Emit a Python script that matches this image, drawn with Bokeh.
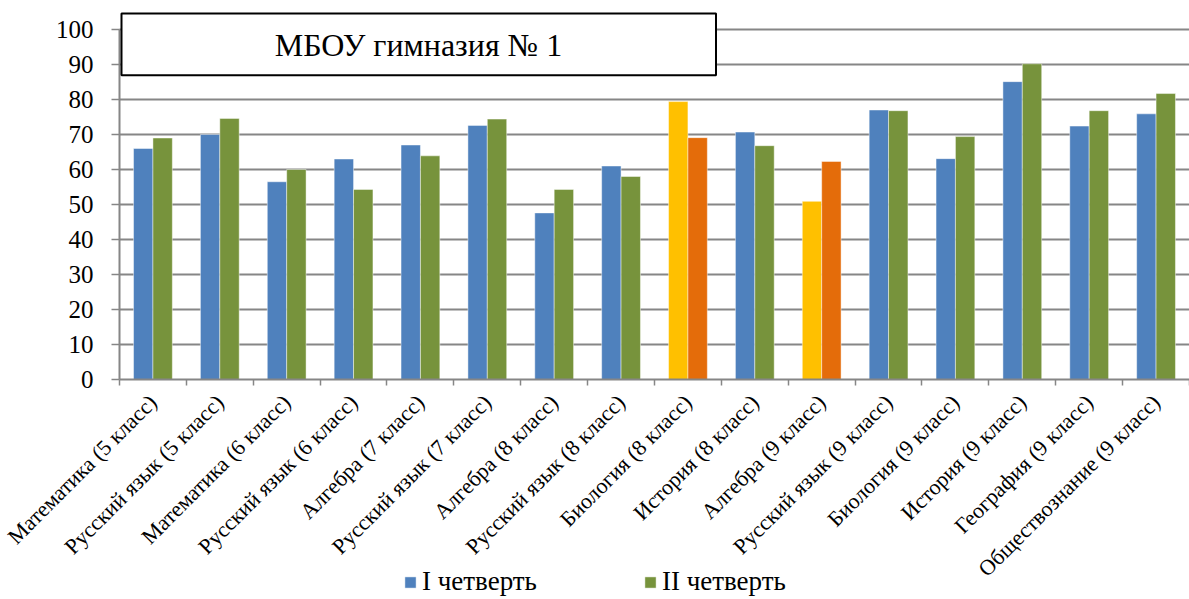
import numpy as np
from bokeh.plotting import figure
from bokeh.models import (ColumnDataSource, Range1d, FixedTicker, Label, Legend,
                          LegendItem, BoxAnnotation)
from bokeh.embed import file_html
from bokeh.resources import INLINE

categories = [
    "Математика (5 класс)", "Русский язык (5 класс)", "Математика (6 класс)",
    "Русский язык (6 класс)", "Алгебра (7 класс)", "Русский язык (7 класс)",
    "Алгебра (8 класс)", "Русский язык (8 класс)", "Биология (8 класс)",
    "История (8 класс)", "Алгебра (9 класс)", "Русский язык (9 класс)",
    "Биология (9 класс)", "История (9 класс)", "География (9 класс)",
    "Обществознание (9 класс)",
]
q1_values = [66.0, 70.0, 56.5, 63.0, 67.0, 72.6, 47.6, 61.0, 79.4, 70.7, 50.9,
             77.0, 63.1, 85.1, 72.4, 75.9]
q2_values = [69.0, 74.6, 60.0, 54.3, 63.9, 74.4, 54.3, 58.0, 69.1, 66.8, 62.3,
             76.8, 69.4, 90.2, 76.8, 81.7]
highlighted = [False, False, False, False, False, False, False, False, True,
               False, True, False, False, False, False, False]
series_names = ["I четверть", "II четверть"]
title_text = "МБОУ гимназия № 1"
y_ticks = [0, 10, 20, 30, 40, 50, 60, 70, 80, 90, 100]

BLUE, GREEN, YELLOW, ORANGE = "#4F81BD", "#77933C", "#FFC000", "#E46C0A"
GRID = "#868686"
FONT = "Liberation Serif"

n = len(categories)
centers = np.arange(n) + 0.5
bar_w = 0.29

src1 = ColumnDataSource(dict(
    x=centers - bar_w / 2, top=q1_values,
    color=[YELLOW if h else BLUE for h in highlighted]))
src2 = ColumnDataSource(dict(
    x=centers + bar_w / 2, top=q2_values,
    color=[ORANGE if h else GREEN for h in highlighted]))

# the frame fills the canvas; both axes are pinned inside it
p = figure(width=1189, height=599, output_backend="svg", toolbar_location=None,
           x_range=Range1d(-1.7794, n), y_range=Range1d(-62.857, 106),
           min_border_left=0, min_border_right=0, min_border_top=8,
           min_border_bottom=0)
p.outline_line_color = None
p.background_fill_color = "white"
p.xgrid.grid_line_color = None
p.ygrid.grid_line_color = None

# horizontal gridlines limited to the plot area (x from 0 to n)
grid_y = y_ticks[1:]
gl = p.segment(x0=[0] * len(grid_y), x1=[n] * len(grid_y), y0=grid_y, y1=grid_y,
               line_color=GRID, line_width=2)
gl.level = "underlay"

r1 = p.vbar(x="x", top="top", width=bar_w, bottom=0, source=src1,
            fill_color="color", line_color="white", line_alpha=0.45, line_width=1)
r2 = p.vbar(x="x", top="top", width=bar_w, bottom=0, source=src2,
            fill_color="color", line_color="white", line_alpha=0.45, line_width=1)

# x axis
p.xaxis.fixed_location = 0
p.xaxis.bounds = (0, n)
p.xaxis.ticker = FixedTicker(ticks=list(centers), minor_ticks=list(range(n + 1)))
p.xaxis.major_label_overrides = {float(c): lab for c, lab in zip(centers, categories)}
p.xaxis.major_label_orientation = np.pi / 4
p.xaxis.major_label_text_font = FONT
p.xaxis.major_label_text_font_size = "22px"
p.xaxis.major_label_text_color = "black"
p.xaxis.major_label_standoff = 13
p.xaxis.major_tick_line_color = None
p.xaxis.minor_tick_out = 6
p.xaxis.minor_tick_in = 0
p.xaxis.minor_tick_line_color = GRID
p.xaxis.minor_tick_line_width = 1.5
p.xaxis.axis_line_color = GRID
p.xaxis.axis_line_width = 2

# y axis
p.yaxis.fixed_location = 0
p.yaxis.ticker = FixedTicker(ticks=y_ticks)
p.yaxis.bounds = (0, 100)
p.yaxis.major_label_text_font = FONT
p.yaxis.major_label_text_font_size = "25px"
p.yaxis.major_label_text_color = "black"
p.yaxis.major_label_standoff = 18
p.yaxis.major_tick_out = 8
p.yaxis.major_tick_in = 0
p.yaxis.major_tick_line_color = GRID
p.yaxis.major_tick_line_width = 1.5
p.yaxis.minor_tick_line_color = None
p.yaxis.axis_line_color = GRID
p.yaxis.axis_line_width = 2

# title box
box = BoxAnnotation(left=0.03, right=8.92, bottom=86.9, top=104.6,
                    fill_color="white", fill_alpha=1.0,
                    line_color="black", line_width=2, line_alpha=1.0)
p.add_layout(box)
title = Label(x=4.47, y=95.7, text=title_text, text_align="center",
              text_baseline="middle", text_font=FONT, text_font_size="32px",
              text_color="black")
p.add_layout(title)

legend = Legend(items=[LegendItem(label=series_names[0], renderers=[r1], index=0),
                       LegendItem(label=series_names[1], renderers=[r2], index=0)],
                orientation="horizontal", location=(403, 2),
                label_text_font=FONT, label_text_font_size="27px",
                label_text_color="black", glyph_width=14, glyph_height=14,
                label_standoff=5, spacing=106, padding=0, margin=0,
                border_line_color=None, background_fill_alpha=0)
p.add_layout(legend, "center")

open("out.html", "w").write(file_html(p, INLINE))
